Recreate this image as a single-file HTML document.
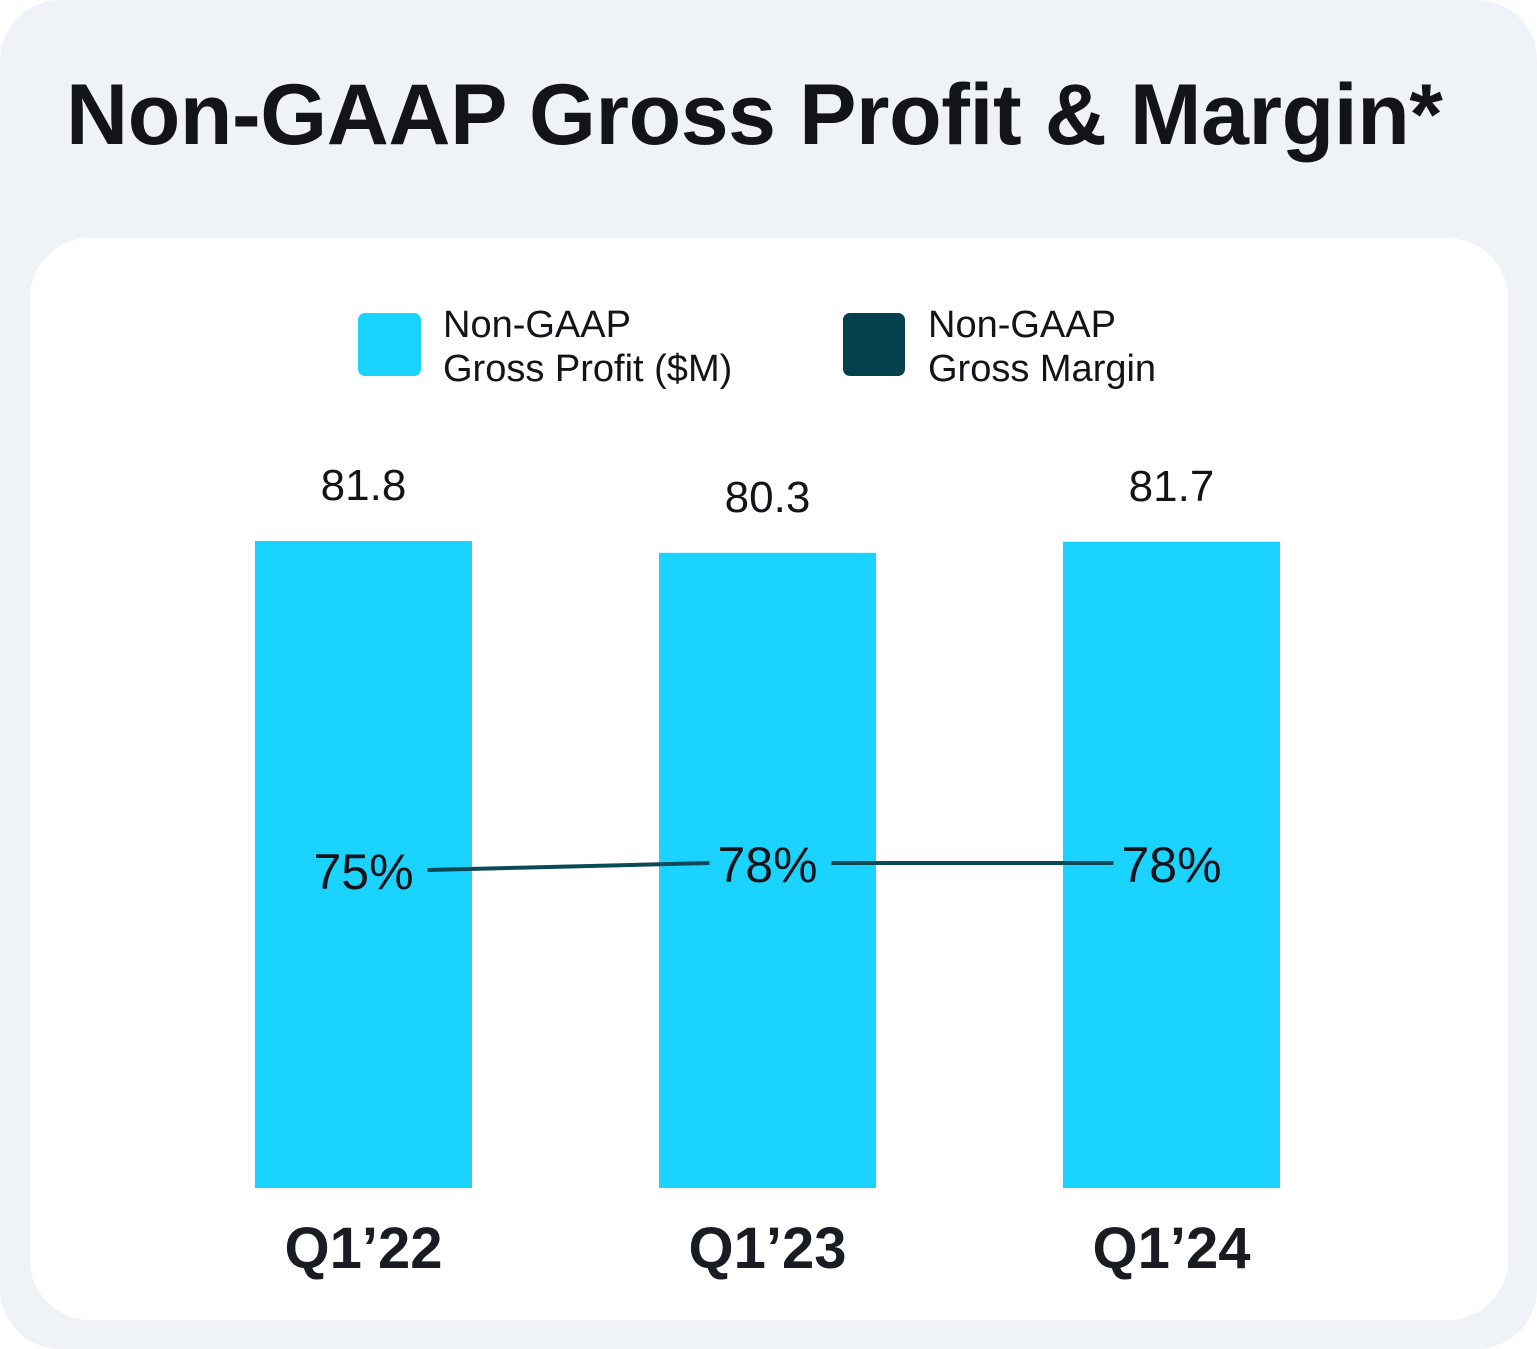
<!DOCTYPE html>
<html><head><meta charset="utf-8"><style>
html,body{margin:0;padding:0;background:#fff}
#card{position:relative;width:1537px;height:1349px;background:#eff3f8;border-radius:60px;overflow:hidden;font-family:"Liberation Sans",sans-serif}
#title{position:absolute;left:66px;top:66px;font-size:86px;font-weight:bold;color:#12141a;letter-spacing:-0.4px;white-space:nowrap}
#panel{position:absolute;left:30px;top:238px;width:1478px;height:1082px;background:#fff;border-radius:60px}
svg{position:absolute;left:0;top:0}
</style></head><body>
<div id="card">
<div id="title">Non-GAAP Gross Profit &amp; Margin*</div>
<div id="panel"></div>
<svg id="chart" width="1537" height="1349" font-family="Liberation Sans, sans-serif">
<g>
<rect x="358" y="313" width="63" height="63" rx="7" fill="#1ad4ff"/>
<text x="443" y="337" font-size="38" fill="#12141a"><tspan x="443">Non-GAAP</tspan><tspan x="443" y="381">Gross Profit ($M)</tspan></text>
<rect x="843" y="313" width="62" height="63" rx="7" fill="#05404f"/>
<text x="928" y="337" font-size="38" fill="#12141a"><tspan x="928">Non-GAAP</tspan><tspan x="928" y="381">Gross Margin</tspan></text>
</g>
</svg>
</div>
<script>
const categories = ["Q1\u201922", "Q1\u201923", "Q1\u201924"];
const profit = [81.8, 80.3, 81.7];
const margin = [75, 78, 78];
const profitLabels = ["81.8", "80.3", "81.7"];
const marginLabels = ["75%", "78%", "78%"];

const ns = "http://www.w3.org/2000/svg";
const svg = document.getElementById("chart");
const baseY = 1188, barW = 217;
const xCenter = i => 363.5 + i * 404;
const yProfit = v => baseY - v * 7.91;
const yMargin = m => 870 - (m - 75) * 2.333;
function mk(tag, attrs){const e=document.createElementNS(ns,tag);for(const k in attrs)e.setAttribute(k,attrs[k]);svg.appendChild(e);return e;}

categories.forEach((c,i)=>{
  const cx = xCenter(i), top = yProfit(profit[i]);
  const b = mk("rect",{x:cx-barW/2,y:top,width:barW,height:baseY-top,fill:"#1ad4ff"});
  
  
  const t = mk("text",{x:cx,y:top-41,"font-size":44,"text-anchor":"middle",fill:"#12141a"});
  t.textContent = profitLabels[i];
  
  
  const xl = mk("text",{x:cx,y:1268,"font-size":58,"font-weight":"bold","text-anchor":"middle",fill:"#1a1c24"});
  xl.textContent = c;
  
  
});
for(let i=0;i<categories.length-1;i++){
  const l = mk("line",{x1:xCenter(i)+64,y1:yMargin(margin[i]),x2:xCenter(i+1)-58,y2:yMargin(margin[i+1]),stroke:"#0a4a58","stroke-width":4});
  
  
}
categories.forEach((c,i)=>{
  const t = mk("text",{x:xCenter(i),y:yMargin(margin[i])+19,"font-size":50,"text-anchor":"middle",fill:"#12141a"});
  t.textContent = marginLabels[i];
  
  
});
</script>
</body></html>
